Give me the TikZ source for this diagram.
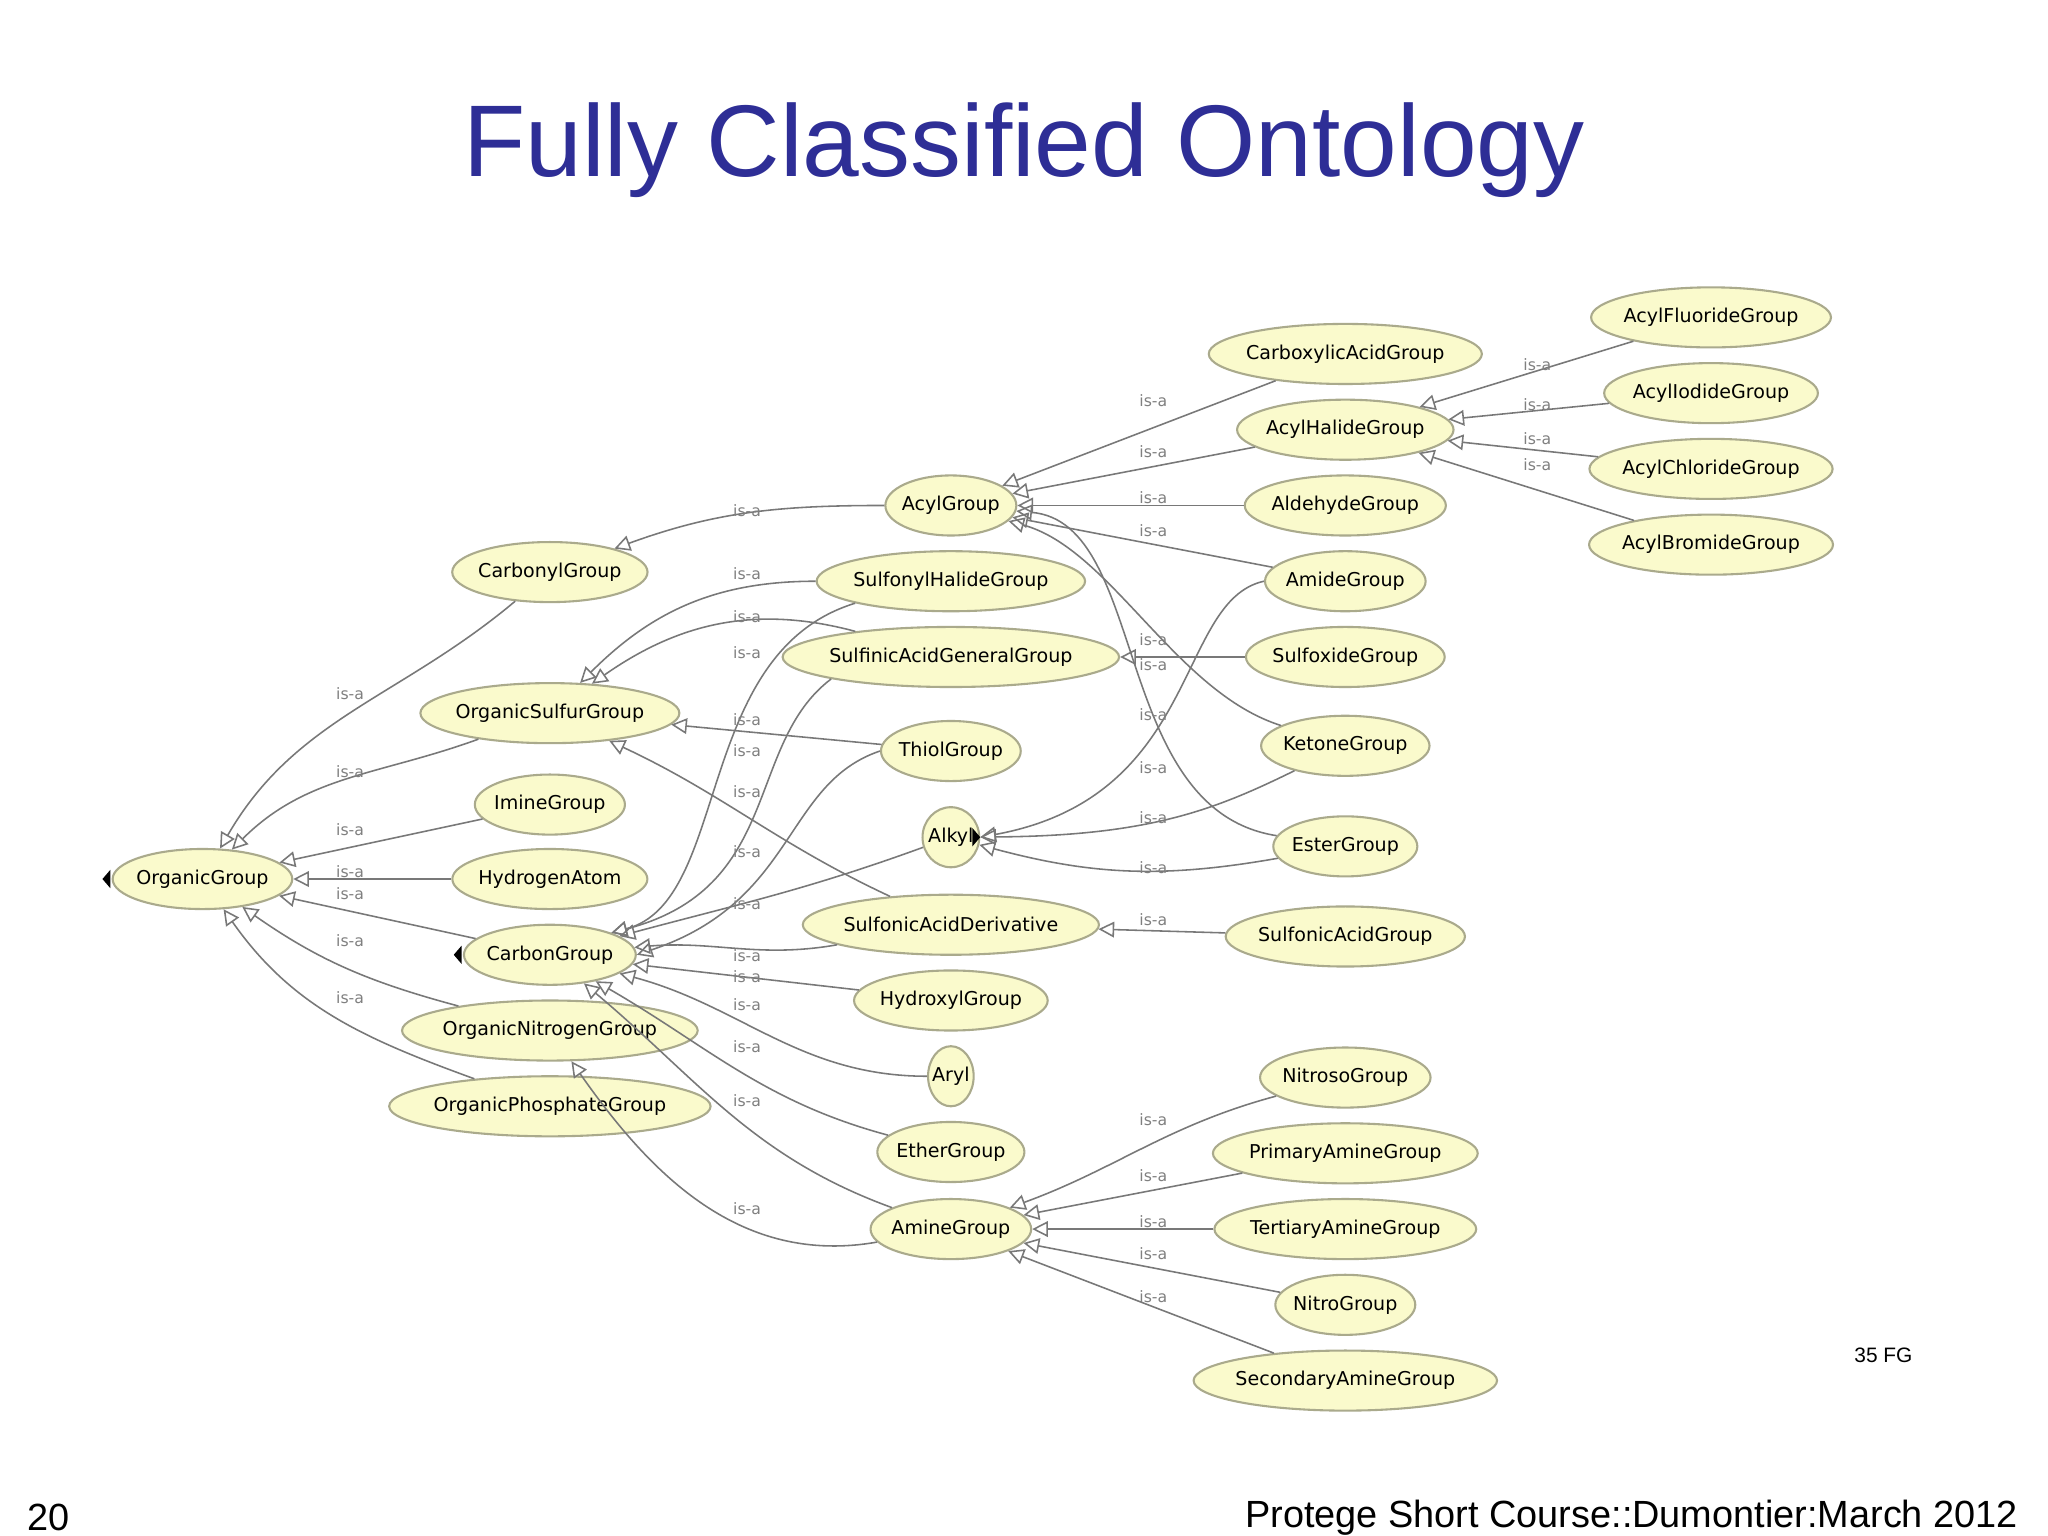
\documentclass[tikz,border=0pt]{standalone}
\usepackage{fontspec}
\setmainfont{Liberation Sans}
\newfontfamily\nodefont{DejaVu Sans}
\usetikzlibrary{shapes.geometric,arrows.meta}
\definecolor{nodefill}{RGB}{250,250,204}
\definecolor{nodeborder}{RGB}{170,170,140}
\definecolor{edgecol}{RGB}{120,120,120}
\definecolor{titleblue}{RGB}{46,46,150}
\begin{document}
\begin{tikzpicture}[x=0.5pt,y=-0.5pt,
  cls/.style={ellipse,draw=nodeborder,line width=0.8pt,fill=nodefill,font=\nodefont\fontsize{7.3}{8}\selectfont,inner xsep=-1pt,inner ysep=0pt,minimum height=23pt},
  isa/.style={draw=edgecol,line width=0.6pt,-{Triangle[open,length=6pt,width=6pt]}},
  lab/.style={font=\nodefont\fontsize{6}{7}\selectfont,text=gray}]
\useasboundingbox (0,0) rectangle (1568,1176);
\fill[white] (0,0) rectangle (1568,1176);
\node[font=\fontsize{39}{44}\selectfont,text=titleblue] (title) at (784,115) {Fully Classified Ontology};
\node[font=\fontsize{14.5}{16}\selectfont,anchor=west] (pg) at (14,1162) {20};
\node[font=\fontsize{14.5}{16}\selectfont,anchor=east] (foot) at (1552,1162) {Protege Short Course::Dumontier:March 2012};
\node[font=\fontsize{8}{9}\selectfont] (fg) at (1442,1038) {35 FG};
% nodes
\node[cls] (org) at (155,673) {OrganicGroup};
\node[cls] (carbonyl) at (421,438) {CarbonylGroup};
\node[cls] (osulf) at (421,546) {OrganicSulfurGroup};
\node[cls] (imine) at (421,616) {ImineGroup};
\node[cls] (hyd) at (421,673) {HydrogenAtom};
\node[cls] (carbon) at (421,731) {CarbonGroup};
\node[cls] (onit) at (421,789) {OrganicNitrogenGroup};
\node[cls] (ophos) at (421,847) {OrganicPhosphateGroup};
\node[cls] (acyl) at (728,387) {AcylGroup};
\node[cls] (sulfhal) at (728,445) {SulfonylHalideGroup};
\node[cls] (sulfin) at (728,503) {SulfinicAcidGeneralGroup};
\node[cls] (thiol) at (728,575) {ThiolGroup};
\node[cls] (alkyl) at (728,641) {Alkyl};
\node[cls] (sderiv) at (728,708) {SulfonicAcidDerivative};
\node[cls] (hydrox) at (728,766) {HydroxylGroup};
\node[cls] (aryl) at (728,824) {Aryl};
\node[cls] (ether) at (728,882) {EtherGroup};
\node[cls] (amine) at (728,941) {AmineGroup};
\node[cls] (carbox) at (1030,271) {CarboxylicAcidGroup};
\node[cls] (acylhal) at (1030,329) {AcylHalideGroup};
\node[cls] (ald) at (1030,387) {AldehydeGroup};
\node[cls] (amide) at (1030,445) {AmideGroup};
\node[cls] (sulfox) at (1030,503) {SulfoxideGroup};
\node[cls] (ketone) at (1030,571) {KetoneGroup};
\node[cls] (ester) at (1030,648) {EsterGroup};
\node[cls] (sacid) at (1030,717) {SulfonicAcidGroup};
\node[cls] (nitroso) at (1030,825) {NitrosoGroup};
\node[cls] (prim) at (1030,883) {PrimaryAmineGroup};
\node[cls] (tert) at (1030,941) {TertiaryAmineGroup};
\node[cls] (nitro) at (1030,999) {NitroGroup};
\node[cls] (sec) at (1030,1057) {SecondaryAmineGroup};
\node[cls] (fluor) at (1310,243) {AcylFluorideGroup};
\node[cls] (iod) at (1310,301) {AcylIodideGroup};
\node[cls] (chlor) at (1310,359) {AcylChlorideGroup};
\node[cls] (brom) at (1310,417) {AcylBromideGroup};
% markers
\fill (org.west) ++(-1,-7) -- ++(0,14) -- ++(-6,-7) -- cycle;
\fill (carbon.west) ++(-1,-7) -- ++(0,14) -- ++(-6,-7) -- cycle;
\fill (alkyl.east) ++(-6,-7) -- ++(0,14) -- ++(6,-7) -- cycle;
% edges to OrganicGroup
\draw[isa] (carbonyl) to[out=220,in=60] (org);
\draw[isa] (osulf) to[out=200,in=45] (org);
\draw[isa] (imine) -- (org);
\draw[isa] (hyd) -- (org);
\draw[isa] (carbon) -- (org);
\draw[isa] (onit) to[out=165,in=-35] (org);
\draw[isa] (ophos) to[out=160,in=-55] (org);
% to Carbonyl
\draw[isa] (acyl) to[out=180,in=20] (carbonyl);
% to OrganicSulfur
\draw[isa] (sulfhal) to[out=180,in=45] (osulf);
\draw[isa] (sulfin) to[out=165,in=35] (osulf);
\draw[isa] (thiol) -- (osulf);
\draw[isa] (sderiv) to[out=155,in=-25] (osulf);
% to CarbonGroup
\draw[isa] (sulfhal.south west) .. controls (530,500) and (560,690) .. (carbon.north east);
\draw[isa] (sulfin.south west) .. controls (570,570) and (600,680) .. (carbon.north east);
\draw[isa] (thiol.west) .. controls (600,600) and (610,690) .. (carbon.east);
\draw[isa] (alkyl) to[out=200,in=15] (carbon);
\draw[isa] (sderiv) to[out=190,in=5] (carbon);
\draw[isa] (hydrox) -- (carbon);
\draw[isa] (aryl) to[out=180,in=-15] (carbon);
\draw[isa] (ether) to[out=165,in=-30] (carbon);
\draw[isa] (amine) to[out=160,in=-40] (carbon);
% to OrganicNitrogen
\draw[isa] (amine) to[out=190,in=-55] (onit);
% to Acyl
\draw[isa] (carbox) -- (acyl);
\draw[isa] (acylhal) -- (acyl);
\draw[isa] (ald) -- (acyl);
\draw[isa] (amide) -- (acyl);
\draw[isa] (ketone) .. controls (900,530) and (850,420) .. (acyl);
\draw[isa] (ester) .. controls (850,620) and (880,400) .. (acyl);
% Sulfinic
\draw[isa] (sulfox) -- (sulfin);
% Alkyl
\draw[isa] (amide.west) .. controls (900,460) and (920,610) .. (alkyl.east);
\draw[isa] (ketone) .. controls (930,620) and (880,640) .. (alkyl);
\draw[isa] (ester) to[out=190,in=-15] (alkyl);
% Sulfonic
\draw[isa] (sacid) -- (sderiv);
% AcylHalide
\draw[isa] (fluor) -- (acylhal);
\draw[isa] (iod) -- (acylhal);
\draw[isa] (chlor) -- (acylhal);
\draw[isa] (brom) -- (acylhal);
% Amine
\draw[isa] (nitroso) to[out=195,in=20] (amine);
\draw[isa] (prim) -- (amine);
\draw[isa] (tert) -- (amine);
\draw[isa] (nitro) -- (amine);
\draw[isa] (sec) -- (amine);
% labels
\foreach \y in {531,591,635,667,684,720,764} \node[lab] at (268,\y) {is-a};
\foreach \y in {391,439,472,500,551,575,606,652,692,732,748,769,801,843,925} \node[lab] at (572,\y) {is-a};
\foreach \y in {307,346,381,406,490,509,547,588,626,664,704,857,900,935,960,993} \node[lab] at (883,\y) {is-a};
\foreach \y in {279,310,336,356} \node[lab] at (1177,\y) {is-a};
\end{tikzpicture}
\end{document}
